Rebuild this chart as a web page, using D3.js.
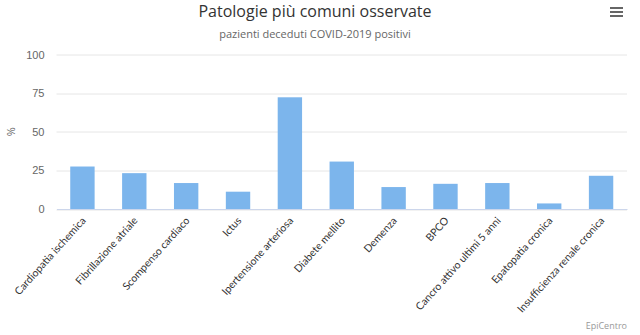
<!DOCTYPE html>
<html>
<head>
<meta charset="utf-8">
<script src="https://cdn.jsdelivr.net/npm/d3@7"></script>
<style>
  body { margin: 0; background: #fff; }
  svg { font-family: "Open Sans", "DejaVu Sans", sans-serif; display: block; }
</style>
</head>
<body>
<div id="chart"></div>
<script>
const categories = [
  "Cardiopatia ischemica", "Fibrillazione atriale", "Scompenso cardiaco", "Ictus",
  "Ipertensione arteriosa", "Diabete mellito", "Demenza", "BPCO",
  "Cancro attivo ultimi 5 anni", "Epatopatia cronica", "Insufficienza renale cronica"
];
const values = [27.5, 23.2, 16.8, 11.2, 72.3, 30.7, 14.2, 16.3, 16.8, 3.6, 21.5];
const yTicks = [0, 25, 50, 75, 100];

const width = 640, height = 335;
const margin = { top: 54.5, right: 13, bottom: 126, left: 56.5 };
const innerWidth = width - margin.left - margin.right;
const innerHeight = height - margin.top - margin.bottom;

const svg = d3.select("#chart")
  .append("svg")
  .attr("width", width)
  .attr("height", height);

// Title and subtitle
svg.append("text")
  .text("Patologie più comuni osservate")
  .attr("x", 315)
  .attr("y", 17)
  .attr("text-anchor", "middle")
  .attr("fill", "#333")
  .style("font-size", "16px");

svg.append("text")
  .text("pazienti deceduti COVID-2019 positivi")
  .attr("x", 315)
  .attr("y", 38)
  .attr("text-anchor", "middle")
  .attr("fill", "#666")
  .style("font-size", "11px");

// Menu icon
[0, 4, 8].forEach(dy => {
  svg.append("rect")
    .attr("x", 610).attr("y", 7 + dy)
    .attr("width", 13).attr("height", 2)
    .attr("fill", "#666");
});

const innerChart = svg.append("g")
  .attr("transform", `translate(${margin.left},${margin.top})`);

const xScale = d3.scaleBand()
  .domain(categories)
  .range([0, innerWidth])
  .paddingInner(0.53)
  .paddingOuter(0.265);

const yScale = d3.scaleLinear()
  .domain([0, 100])
  .range([innerHeight, 0]);

// Grid lines
innerChart.selectAll("line.grid")
  .data(yTicks)
  .join("line")
  .attr("class", "grid")
  .attr("x1", 0)
  .attr("x2", innerWidth)
  .attr("y1", d => Math.round(yScale(d)) + 0.5)
  .attr("y2", d => Math.round(yScale(d)) + 0.5)
  .attr("stroke", "#e6e6e6");

// Bars
innerChart.selectAll("rect.bar")
  .data(values)
  .join("rect")
  .attr("class", "bar")
  .attr("x", (d, i) => xScale(categories[i]))
  .attr("y", d => yScale(d))
  .attr("width", xScale.bandwidth())
  .attr("height", d => innerHeight - yScale(d))
  .attr("fill", "#7cb5ec");

// Bottom axis
const bottomAxis = d3.axisBottom(xScale).tickSize(0).tickPadding(0);
const xAxis = innerChart.append("g")
  .attr("transform", `translate(0, ${innerHeight})`)
  .call(bottomAxis);
xAxis.select(".domain").attr("stroke", "#ccd6eb");
xAxis.selectAll("text")
  .attr("fill", "#333")
  .style("font-family", "Lato, 'Open Sans', sans-serif")
  .style("font-size", "10.5px")
  .attr("text-anchor", "end")
  .attr("dy", "0")
  .attr("y", 0)
  .attr("transform", "translate(4, 12) rotate(-48)");

// Left axis
const leftAxis = d3.axisLeft(yScale).tickValues(yTicks).tickSize(0).tickPadding(12);
const yAxis = innerChart.append("g").call(leftAxis);
yAxis.select(".domain").remove();
yAxis.selectAll("text")
  .attr("fill", "#666")
  .style("font-size", "11px");

svg.append("text")
  .text("%")
  .attr("transform", `translate(15, ${margin.top + innerHeight / 2}) rotate(-90)`)
  .attr("text-anchor", "middle")
  .attr("fill", "#666")
  .style("font-size", "11px");

// Credits
svg.append("text")
  .text("EpiCentro")
  .attr("x", 627)
  .attr("y", 329)
  .attr("text-anchor", "end")
  .attr("fill", "#999")
  .style("font-size", "9px");
</script>
</body>
</html>
